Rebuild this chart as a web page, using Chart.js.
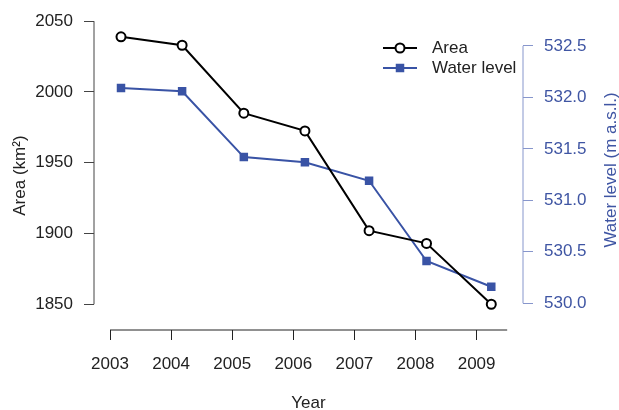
<!DOCTYPE html>
<html>
<head>
<meta charset="utf-8">
<script src="https://cdn.jsdelivr.net/npm/chart.js@4.4.1/dist/chart.umd.min.js"></script>
<style>
  html, body { margin: 0; padding: 0; background: #fff; }
  #wrap { width: 619px; height: 410px; }
</style>
</head>
<body>
<div id="wrap"><canvas id="chart"></canvas></div>
<script>
const years      = [2003.18, 2004.18, 2005.19, 2006.19, 2007.24, 2008.18, 2009.24]
const area       = [2039, 2033, 1985, 1972.5, 1902, 1893, 1850]
const waterLevel = [532.09, 532.06, 531.42, 531.37, 531.19, 530.41, 530.16]

const yearTicks  = [2003, 2004, 2005, 2006, 2007, 2008, 2009]
const areaTicks  = [1850, 1900, 1950, 2000, 2050]
const levelTicks = [530.0, 530.5, 531.0, 531.5, 532.0, 532.5]

const FONT   = 'Liberation Sans, Arial, Helvetica, sans-serif'
const BLUE   = '#3953a5'
const BLUE_T = '#3f55a3'
const BLUE_A = '#8796cc'
const X_AXIS_END = 2009.5

const setTicks = list => scale => { scale.ticks = list.map(v => ({ value: v })) }

// axis lines, right-hand title and the legend
const decor = {
  id: 'decor',
  afterDraw(chart) {
    const { ctx, chartArea, scales } = chart
    const { x, y, y2 } = scales
    ctx.save()
    ctx.lineWidth = 1

    ctx.strokeStyle = '#444'
    ctx.beginPath()
    ctx.moveTo(chartArea.left, y.getPixelForValue(areaTicks[0]))
    ctx.lineTo(chartArea.left, y.getPixelForValue(areaTicks[areaTicks.length - 1]))
    ctx.stroke()

    ctx.strokeStyle = '#222'
    ctx.beginPath()
    ctx.moveTo(x.getPixelForValue(yearTicks[0]), chartArea.bottom)
    ctx.lineTo(x.getPixelForValue(X_AXIS_END), chartArea.bottom)
    ctx.stroke()

    ctx.strokeStyle = BLUE_A
    ctx.beginPath()
    ctx.moveTo(chartArea.right, y2.getPixelForValue(levelTicks[0]))
    ctx.lineTo(chartArea.right, y2.getPixelForValue(levelTicks[levelTicks.length - 1]))
    ctx.stroke()

    ctx.fillStyle = BLUE_T
    ctx.font = '17px ' + FONT
    ctx.textAlign = 'center'
    ctx.textBaseline = 'middle'
    ctx.translate(611, 170)
    ctx.rotate(-Math.PI / 2)
    ctx.fillText('Water level (m a.s.l.)', 0, 0)
    ctx.restore()

    // legend
    ctx.save()
    chart.data.datasets.forEach((ds, i) => {
      const ly = 48 + i * 20
      ctx.strokeStyle = ds.borderColor
      ctx.lineWidth = 2
      ctx.beginPath()
      ctx.moveTo(383, ly)
      ctx.lineTo(417, ly)
      ctx.stroke()
      if (ds.pointStyle === 'rect') {
        ctx.fillStyle = ds.pointBackgroundColor
        ctx.fillRect(400 - 4.25, ly - 4.25, 8.5, 8.5)
      } else {
        ctx.fillStyle = '#fff'
        ctx.beginPath()
        ctx.arc(400, ly, 4.5, 0, Math.PI * 2)
        ctx.fill()
        ctx.stroke()
      }
      ctx.fillStyle = '#222'
      ctx.font = '17px ' + FONT
      ctx.textAlign = 'left'
      ctx.textBaseline = 'middle'
      ctx.fillText(ds.label, 432, ly)
    })
    ctx.restore()
  }
}

new Chart(document.getElementById('chart'), {
  type: 'line',
  data: {
    datasets: [
      {
        label: 'Area',
        data: years.map((v, i) => ({ x: v, y: area[i] })),
        yAxisID: 'y',
        borderColor: '#000',
        borderWidth: 2,
        pointStyle: 'circle',
        pointRadius: 4.5,
        pointBorderWidth: 2,
        pointBackgroundColor: '#fff',
        pointBorderColor: '#000',
        tension: 0,
      },
      {
        label: 'Water level',
        data: years.map((v, i) => ({ x: v, y: waterLevel[i] })),
        yAxisID: 'y2',
        borderColor: BLUE,
        borderWidth: 2,
        pointStyle: 'rect',
        pointRadius: 6,
        pointBorderWidth: 0,
        pointBackgroundColor: BLUE,
        pointBorderColor: BLUE,
        tension: 0,
      },
    ],
  },
  options: {
    responsive: true, maintainAspectRatio: false,
    animation: false,
    layout: { padding: { top: 18, left: 0, right: 0, bottom: 0 } },
    plugins: { legend: { display: false }, tooltip: { enabled: false } },
    scales: {
      x: {
        type: 'linear', position: 'bottom',
        min: 2002.738, max: 2009.759,
        afterBuildTicks: setTicks(yearTicks),
        afterFit: s => { s.height = 80 },
        grid: { drawOnChartArea: false, drawTicks: true, tickLength: 10, color: '#222' },
        border: { display: false },
        ticks: { padding: 14, color: '#222', font: { family: FONT, size: 17 }, callback: v => String(v), maxRotation: 0, autoSkip: false },
        title: { display: true, text: 'Year', color: '#222', font: { family: FONT, size: 17, lineHeight: 1 }, padding: { top: 0, bottom: -2 } },
      },
      y: {
        type: 'linear', position: 'left',
        min: 1831.8, max: 2050,
        afterBuildTicks: setTicks(areaTicks),
        afterFit: s => { s.width = 94 },
        grid: { drawOnChartArea: false, drawTicks: true, tickLength: 10, color: '#444' },
        border: { display: false },
        ticks: { padding: 11, color: '#222', font: { family: FONT, size: 17 }, callback: v => String(v) },
        title: { display: true, text: 'Area (km²)', color: '#222', font: { family: FONT, size: 17, lineHeight: 1 }, padding: { top: 11.5, bottom: 0 } },
      },
      y2: {
        type: 'linear', position: 'right',
        min: 529.74, max: 532.74,
        afterBuildTicks: setTicks(levelTicks),
        afterFit: s => { s.width = 96 },
        grid: { drawOnChartArea: false, drawTicks: true, tickLength: 10, color: BLUE_A },
        border: { display: false },
        ticks: { padding: 11, color: BLUE_T, font: { family: FONT, size: 17 }, callback: v => Number(v).toFixed(1) },
      },
    },
  },
  plugins: [decor],
})
</script>
</body>
</html>
